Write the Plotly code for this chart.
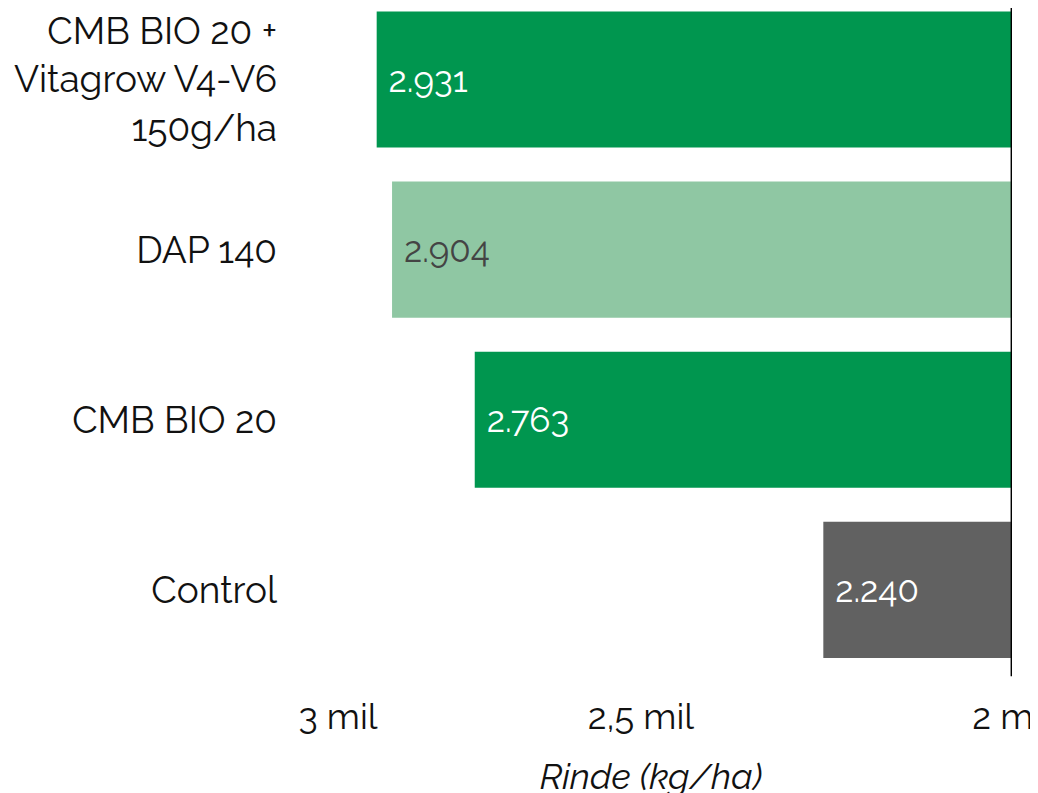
import math
import plotly.graph_objects as go

categories = ["Control", "CMB BIO 20", "DAP 140", "CMB BIO 20 +<br>Vitagrow V4-V6<br>150g/ha"]
values = [2240, 2763, 2904, 2931]
bar_colors = ["#616161", "#00964f", "#8fc7a3", "#00964f"]
text_colors = ["#ffffff", "#ffffff", "#444444", "#ffffff"]
base_value = 2000
tick_vals = [3000, 2500, 2000]
tick_text = ["3 mil", "2,5 mil", "2 mil"]

FONT = "Raleway, Lato, sans-serif"

labels = ["\u00a0" + f"{v:,}".replace(",", ".") for v in values]

fig = go.Figure(go.Bar(
    y=categories,
    x=[v - base_value for v in values],
    base=base_value,
    orientation="h",
    marker=dict(color=bar_colors, line=dict(width=0)),
    width=0.8,
    text=labels,
    textposition="inside",
    insidetextanchor="end",
    textfont=dict(family=FONT, size=35, color=text_colors),
    hoverinfo="skip",
))

fig.update_layout(
    width=1038, height=793,
    margin=dict(l=282, r=34, t=0, b=126, autoexpand=False),
    paper_bgcolor="white", plot_bgcolor="white",
    showlegend=False,
    font=dict(family=FONT, color="#111111"),
    xaxis=dict(
        type="log",
        automargin=False,
        range=[math.log10(3088), math.log10(1999.5)],
        tickvals=tick_vals, ticktext=tick_text,
        tickfont=dict(size=36, family=FONT, color="#111111"),
        showgrid=False, zeroline=False, showline=False, ticks="",
        ticklabelstandoff=17,
        ticklabeloverflow="allow",
        title=dict(text="<i>Rinde (kg/ha)</i>", font=dict(size=36, family=FONT, color="#111111"), standoff=27),
    ),
    yaxis=dict(
        automargin=False,
        range=[-0.5, 3.42],
        tickfont=dict(size=37, family=FONT, color="#111111"),
        showgrid=False, zeroline=False, showline=False, ticks="",
        ticklabelstandoff=12,
    ),
    shapes=[dict(type="line", xref="x", yref="paper", x0=2000, x1=2000, y0=-0.002, y1=1,
                 line=dict(color="black", width=2))],
)

fig.write_html("out.html")
